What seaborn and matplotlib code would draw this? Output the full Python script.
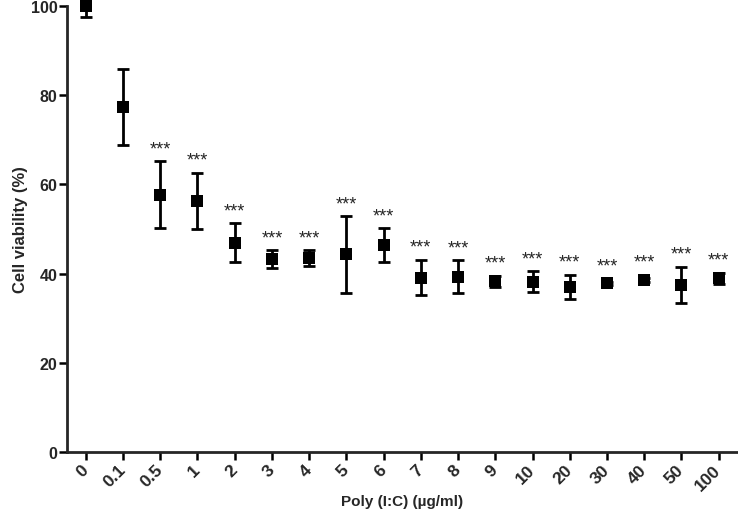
import numpy as np
import pandas as pd
import matplotlib
matplotlib.use("Agg")
import matplotlib.pyplot as plt
import seaborn as sns

# data
doses = ["0", "0.1", "0.5", "1", "2", "3", "4", "5", "6", "7", "8", "9",
         "10", "20", "30", "40", "50", "100"]
viability = [100.0, 77.4, 57.7, 56.3, 46.9, 43.2, 43.5, 44.3, 46.4, 39.1,
             39.3, 38.3, 38.2, 37.0, 37.8, 38.6, 37.4, 38.9]
sd = [2.5, 8.5, 7.5, 6.3, 4.4, 2.0, 1.7, 8.6, 3.8, 4.0, 3.7, 1.2, 2.3,
      2.7, 0.4, 0.4, 4.1, 1.3]
signif = ["", ""] + ["***"] * 16

sns.set_style("ticks")
plt.rcParams['font.family'] = ['Liberation Sans', 'DejaVu Sans']

df = pd.DataFrame({"pos": np.arange(len(doses)), "dose": doses,
                   "viability": viability, "sd": sd})

fig, ax = plt.subplots(figsize=(7.38, 5.10), dpi=100)
fig.subplots_adjust(left=0.091, right=0.999, top=0.986, bottom=0.112)

ax.errorbar(df["pos"], df["viability"], yerr=df["sd"], fmt="none",
            ecolor="black", elinewidth=2.0, capsize=4.2, capthick=2.0,
            zorder=2)
sns.scatterplot(data=df, x="pos", y="viability", marker="s", s=64,
                color="black", edgecolor="black", linewidth=0, ax=ax,
                zorder=3, clip_on=False)

# significance stars above each bar
for i, lab in enumerate(signif):
    if lab:
        top = viability[i] + max(sd[i], 1.1)
        ax.annotate(lab, (i, top), xytext=(0, 9), textcoords="offset points",
                    ha="center", va="center", fontsize=13)

ax.set_xlim(-0.5, len(doses) - 0.5)
ax.set_ylim(0, 100)
ax.set_yticks([0, 20, 40, 60, 80, 100])
ax.set_xticks(df["pos"])
ax.set_xticklabels(doses, rotation=45, ha="right", va="center",
                   rotation_mode="anchor", fontweight="bold", fontsize=12.5)
for t in ax.get_yticklabels():
    t.set_fontweight("bold")
    t.set_fontsize(11.5)

ax.set_xlabel("Poly (I:C) (\u00b5g/ml)", fontsize=11, fontweight="bold")
ax.xaxis.set_label_coords(0.5, -0.095)
ax.set_ylabel("Cell viability (%)", fontsize=12, fontweight="bold",
              labelpad=2)

sns.despine(ax=ax)
for s in ["left", "bottom"]:
    ax.spines[s].set_linewidth(2.0)
ax.tick_params(axis="both", width=1.8, length=6, color="black")
ax.tick_params(axis="y", pad=1)
ax.tick_params(axis="x", pad=5)

fig.savefig("out.png", dpi=100)
